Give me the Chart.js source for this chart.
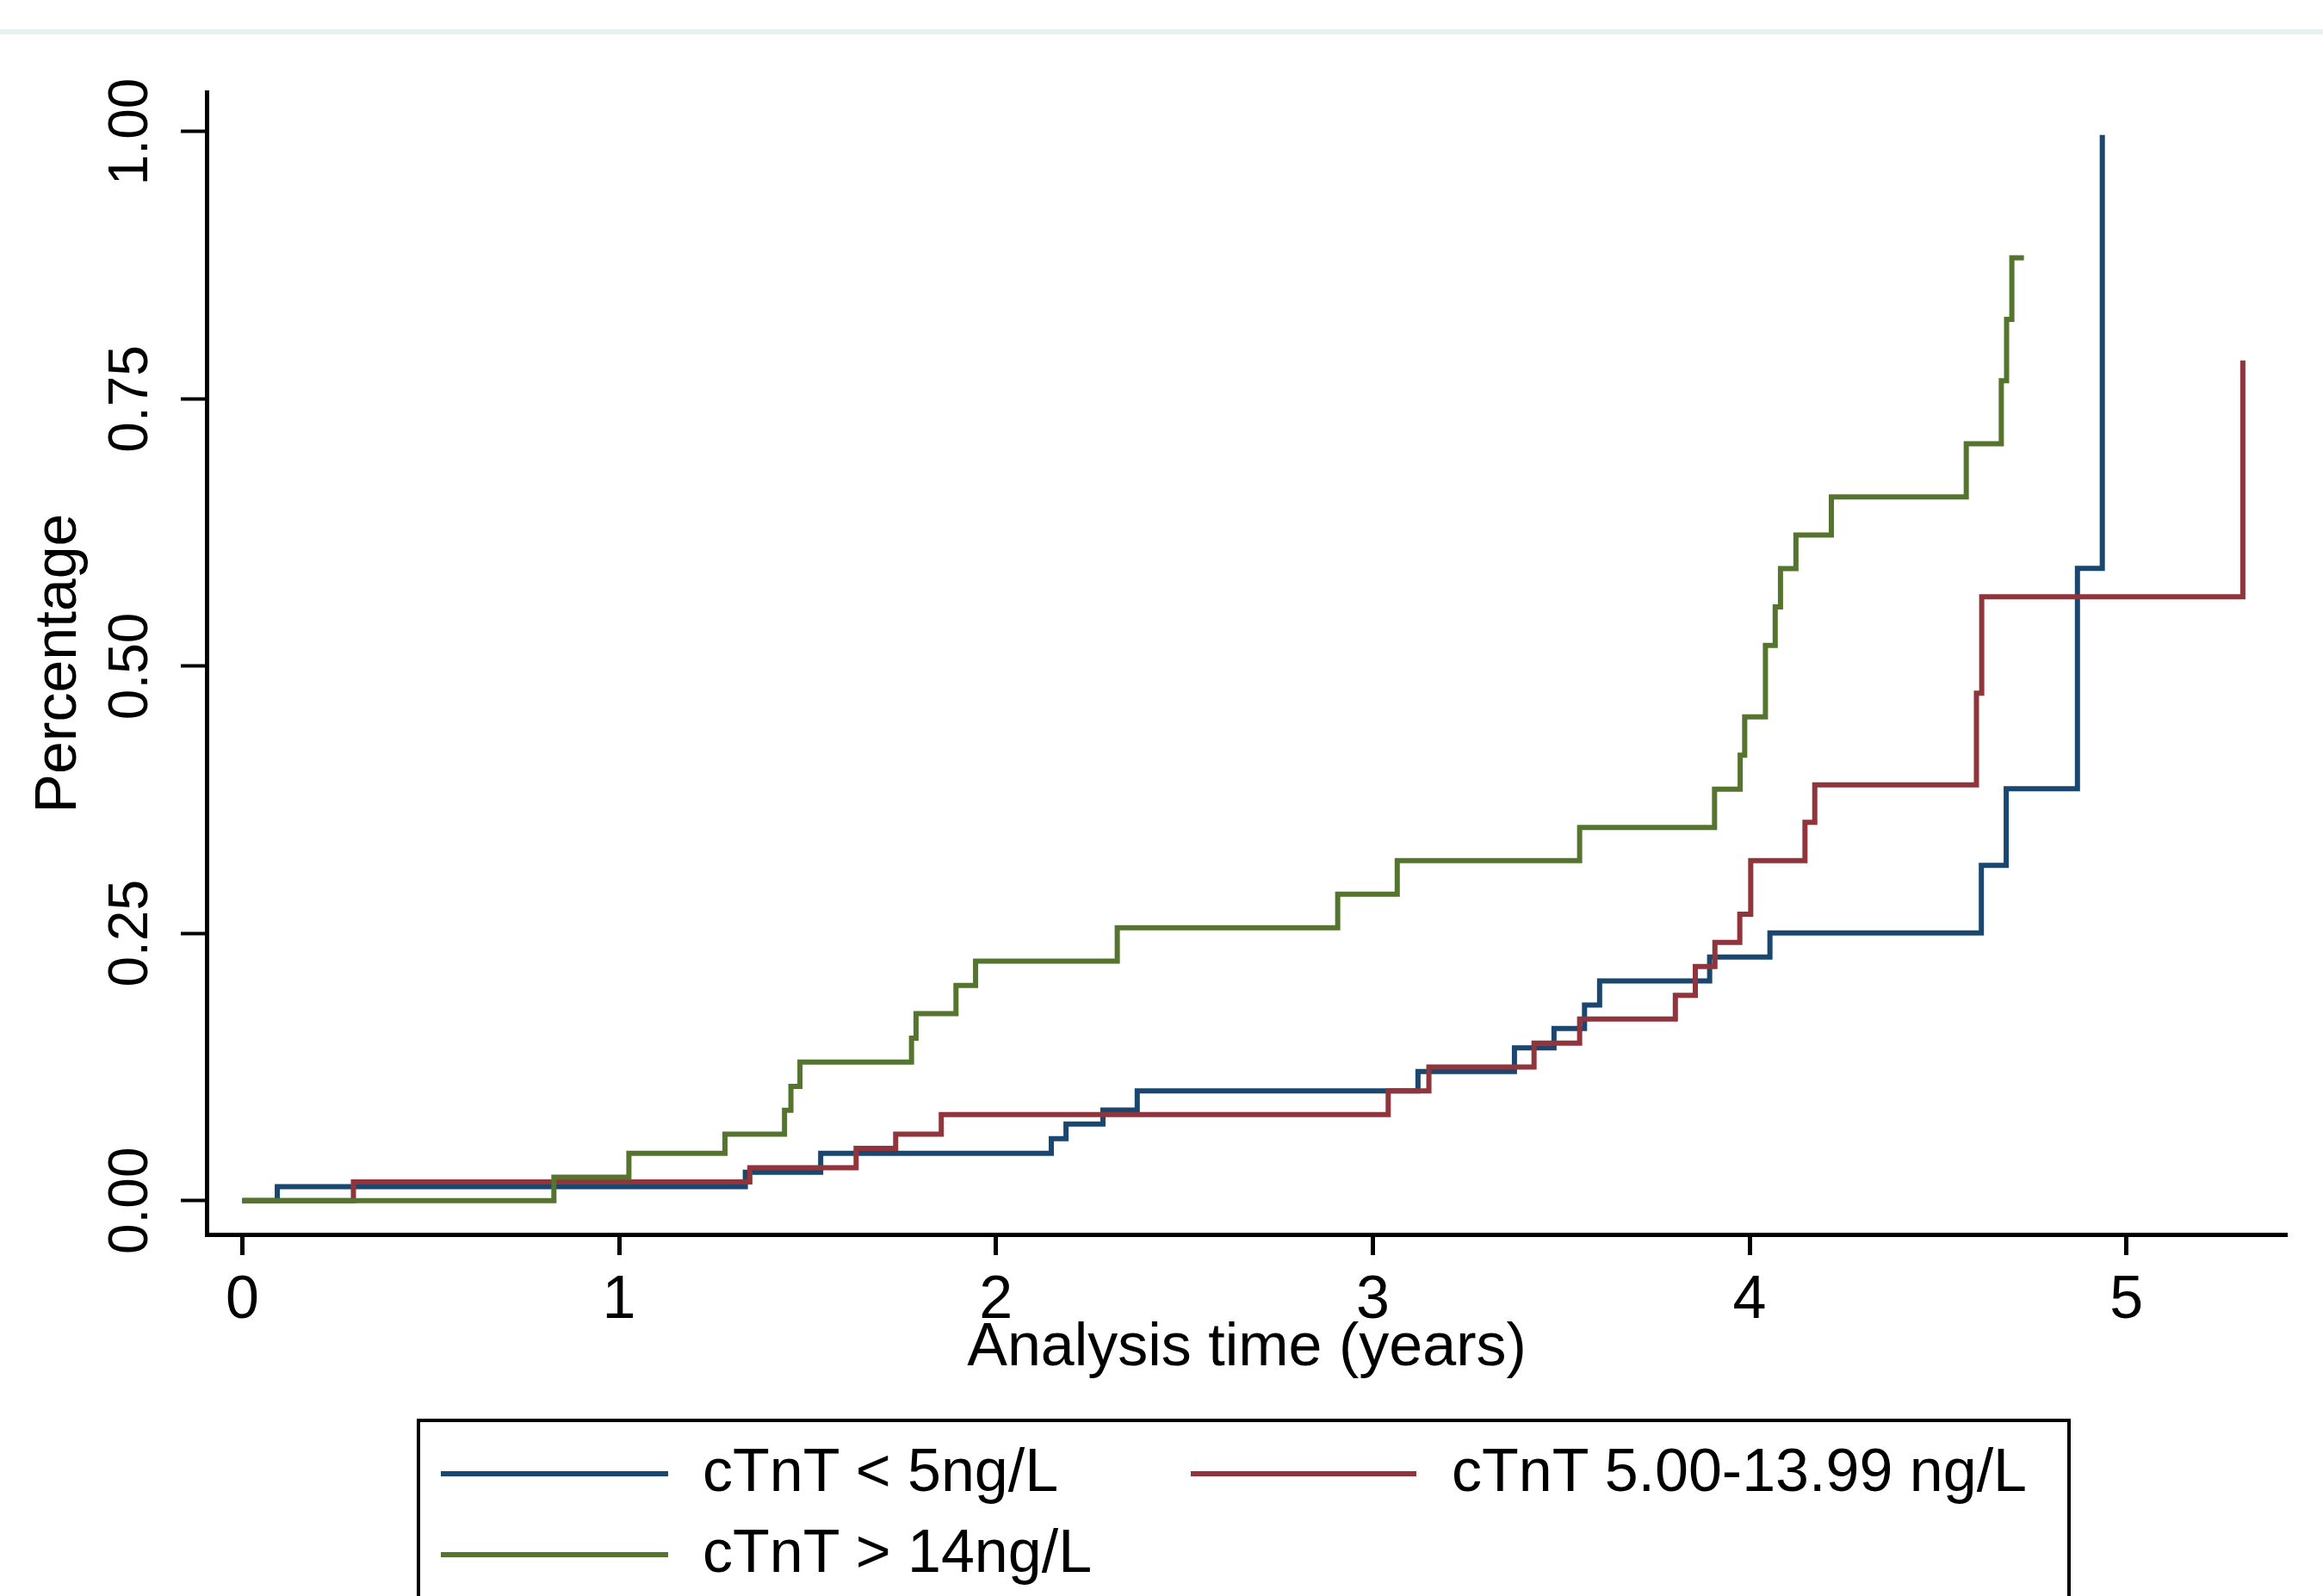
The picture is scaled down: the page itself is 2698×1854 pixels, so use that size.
<!DOCTYPE html>
<html>
<head>
<meta charset="utf-8">
<script src="https://cdn.jsdelivr.net/npm/chart.js@4.4.0/dist/chart.umd.min.js"></script>
<style>
  body { margin: 0; background: #fff; overflow: hidden; }
  #wrap { position: relative; width: 2698px; height: 1854px; background: #fff; }
  #topBand { position: absolute; left: 0; top: 34px; width: 2698px; height: 6px; background: #e9f0f2; }
  #chart { position: absolute; left: 0; top: 0; }
  #legend {
    position: absolute; left: 484px; top: 1648px; width: 1921px; height: 260px;
    border: 4px solid #000; box-sizing: border-box;
    font-family: "Liberation Sans", Arial, sans-serif; font-size: 70px; color: #000;
  }
  .key { position: absolute; height: 6px; }
  .lbl { position: absolute; line-height: 70px; white-space: nowrap; }
</style>
</head>
<body>
<div id="wrap">
  <div id="topBand"></div>
  <canvas id="chart" width="2698" height="1854"></canvas>
  <div id="legend"></div>
</div>
<script>
// cumulative incidence by cTnT group
const lowTime  = [0, 0.093, 1.335, 1.535, 2.147, 2.186, 2.284, 2.375, 3.120, 3.376, 3.481, 3.562, 3.602, 3.894, 4.054, 4.615, 4.681, 4.870, 4.936];
const lowValue = [0, 0.0131, 0.0266, 0.0443, 0.058, 0.0717, 0.0848, 0.1026, 0.1208, 0.143, 0.161, 0.183, 0.2056, 0.228, 0.2505, 0.3136, 0.3853, 0.5915, 0.997];

const midTime  = [0, 0.295, 1.347, 1.629, 1.734, 1.855, 3.041, 3.149, 3.428, 3.549, 3.803, 3.856, 3.908, 3.974, 4.003, 4.147, 4.173, 4.602, 4.616, 5.309];
const midValue = [0, 0.0175, 0.0309, 0.049, 0.0623, 0.0805, 0.1026, 0.125, 0.1474, 0.170, 0.192, 0.219, 0.2416, 0.268, 0.318, 0.354, 0.389, 0.4748, 0.565, 0.786];

const highTime  = [0, 0.827, 1.026, 1.281, 1.439, 1.456, 1.480, 1.776, 1.788, 1.894, 1.946, 2.322, 2.907, 3.065, 3.549, 3.907, 3.975, 3.987, 4.042, 4.068, 4.082, 4.123, 4.217, 4.575, 4.668, 4.682, 4.696, 4.728];
const highValue = [0, 0.022, 0.0443, 0.0623, 0.0846, 0.107, 0.1297, 0.152, 0.175, 0.2014, 0.224, 0.2553, 0.2867, 0.318, 0.3491, 0.385, 0.4167, 0.4525, 0.5195, 0.5555, 0.5912, 0.6226, 0.6583, 0.708, 0.767, 0.8245, 0.882, 0.882];

const seriesLabels = ['cTnT < 5ng/L', 'cTnT 5.00-13.99 ng/L', 'cTnT > 14ng/L'];
const seriesColors = ['#1a476f', '#90353b', '#55752f'];

const xTicks = [0, 1, 2, 3, 4, 5];
const yTicks = [0, 0.25, 0.5, 0.75, 1];

const FONT = '"Liberation Sans", Arial, sans-serif';

const toPoints = (t, v) => t.map((x, i) => ({ x: x, y: v[i] }));

const series = [
  { data: toPoints(lowTime, lowValue), order: 2 },
  { data: toPoints(midTime, midValue), order: 1 },
  { data: toPoints(highTime, highValue), order: 0 }
];

const ctx = document.getElementById('chart').getContext('2d');
const chart = new Chart(ctx, {
  type: 'line',
  data: {
    datasets: series.map((s, i) => ({
      label: seriesLabels[i],
      data: s.data,
      order: s.order,
      borderColor: seriesColors[i],
      backgroundColor: seriesColors[i],
      borderWidth: 6,
      borderJoinStyle: 'miter',
      borderCapStyle: 'butt',
      pointRadius: 0,
      // chart.js 'before' = horizontal run first, then the jump
      stepped: 'before',
      fill: false
    }))
  },
  options: {
    responsive: false,
    animation: false,
    devicePixelRatio: 1,
    layout: { padding: { top: 107, right: 42, bottom: 240, left: 0 } },
    plugins: {
      legend: { display: false },
      tooltip: { enabled: false }
    },
    scales: {
      x: {
        type: 'linear',
        min: -0.0945,
        max: 5.4257,
        afterBuildTicks: s => { s.ticks = xTicks.map(v => ({ value: v })); },
        afterFit: s => { s.height = 180; },
        border: { display: true, color: '#000', width: 5 },
        grid: { display: true, drawOnChartArea: false, tickLength: 24, tickWidth: 5, tickColor: '#000' },
        ticks: {
          color: '#000', font: { family: FONT, size: 70 }, padding: 12,
          autoSkip: false, maxRotation: 0, callback: v => String(v)
        },
        title: {
          display: true, text: 'Analysis time (years)', color: '#000',
          font: { family: FONT, size: 70 }, padding: { top: 0, bottom: 5 }
        }
      },
      y: {
        type: 'linear',
        min: -0.0316,
        max: 1.037,
        afterBuildTicks: s => { s.ticks = yTicks.map(v => ({ value: v })); },
        afterFit: s => { s.width = 240; },
        border: { display: true, color: '#000', width: 5 },
        grid: { display: true, drawOnChartArea: false, tickLength: 30, tickWidth: 4, tickColor: '#000' },
        ticks: {
          color: '#000', font: { family: FONT, size: 64 }, padding: -6,
          autoSkip: false, minRotation: 90, maxRotation: 90, crossAlign: 'center',
          callback: v => v.toFixed(2)
        },
        title: {
          display: true, text: 'Percentage', color: '#000',
          font: { family: FONT, size: 68 }, padding: { top: 28, bottom: 0 }
        }
      }
    }
  }
});

// boxed legend under the plot, two columns like the original
const legendSlots = [
  { key: [24, 57, 264], text: [328, 21] },
  { key: [895, 57, 262], text: [1198, 21] },
  { key: [24, 151, 264], text: [328, 115] }
];
const legendElem = document.getElementById('legend');
seriesLabels.forEach((label, i) => {
  const slot = legendSlots[i];
  const key = document.createElement('div');
  key.className = 'key';
  key.style.left = slot.key[0] + 'px';
  key.style.top = slot.key[1] + 'px';
  key.style.width = slot.key[2] + 'px';
  key.style.background = seriesColors[i];
  legendElem.appendChild(key);

  const txt = document.createElement('div');
  txt.className = 'lbl';
  txt.style.left = slot.text[0] + 'px';
  txt.style.top = slot.text[1] + 'px';
  txt.innerText = label;
  legendElem.appendChild(txt);
});
</script>
</body>
</html>
